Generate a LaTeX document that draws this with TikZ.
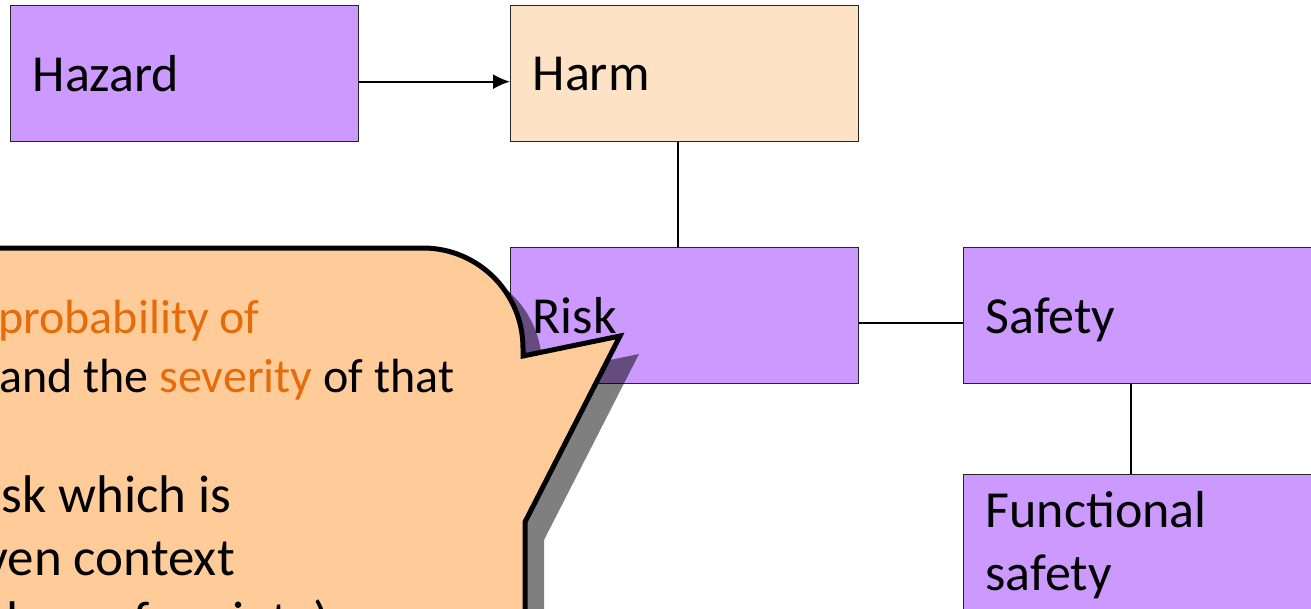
\documentclass[tikz,border=0pt]{standalone}
\usepackage{fontspec}
\setmainfont{Carlito}
\usepackage{tikz}
\usepackage{xcolor}
\usetikzlibrary{arrows.meta,shadows}

\definecolor{boxpurple}{RGB}{204,153,255}
\definecolor{harmpeach}{RGB}{253,226,198}
\definecolor{bubblefill}{RGB}{255,204,153}
\definecolor{accentorange}{RGB}{228,108,10}

\tikzset{
  conceptbox/.style={draw=black!85, line width=1.3pt, fill=boxpurple,
    minimum width=348pt, minimum height=136pt, text width=304pt,
    inner xsep=22pt, inner ysep=0pt, align=left, text depth=0pt,
    font=\fontsize{52}{63}\selectfont, anchor=north west},
  link/.style={line width=1.8pt},
  bubbletext/.style={anchor=base west, inner sep=0pt},
}

\begin{document}
\begin{tikzpicture}[x=1pt,y=-1pt]
  \useasboundingbox (0,0) rectangle (1311,608);
  \clip (0,0) rectangle (1311,608);

  % concept boxes
  \node[conceptbox] (hazard) at (10,5) {Hazard};
  \node[conceptbox, fill=harmpeach] (harm) at (510,5) {Harm};
  \node[conceptbox] (risk) at (510,247) {Risk};
  \node[conceptbox] (safety) at (963,247) {Safety};
  \node[conceptbox, text depth=66pt] (funcsafety) at (963,474) {Functional\\safety};

  % links between boxes
  \draw[link, -{Latex[length=17pt,width=15pt]}] ([yshift=-8pt]hazard.east) -- ([yshift=-8pt]harm.west);
  \draw[link] ([xshift=-7pt]harm.south) -- ([xshift=-7pt]risk.north);
  \draw[link] ([yshift=-7pt]risk.east) -- ([yshift=-7pt]safety.west);
  \draw[link] ([xshift=-7pt]safety.south) -- ([xshift=-7pt]funcsafety.north);

  % speech bubble pointing at Risk
  \coordinate (tip) at (620,336);
  \draw[line width=5pt, line join=miter, fill=bubblefill,
        drop shadow={shadow xshift=19pt, shadow yshift=-18pt, opacity=0.5, fill=black}]
    (-20,248) -- (423,248) .. controls (478.2,248) and (523,292.8) .. (523,348)
    -- (523,356) -- (tip) -- (525,522) -- (525,700) -- (-20,700) -- cycle;

  % bubble text
  \node[bubbletext, font=\fontsize{48}{58}\selectfont, text=accentorange] (probline) at (-2,333) {probability of};
  \node[bubbletext, font=\fontsize{48}{58}\selectfont] (severityline) at (-1,392) {and the \textcolor{accentorange}{severity} of that};
  \node[bubbletext, font=\fontsize{53}{64}\selectfont] (acceptline) at (-29,512) {risk which is};
  \node[bubbletext, font=\fontsize{53}{64}\selectfont] (contextline) at (-53,575) {given context};
  \node[bubbletext, font=\fontsize{53}{64}\selectfont] (valuesline) at (-42,638) {values of society)};

\end{tikzpicture}
\end{document}
